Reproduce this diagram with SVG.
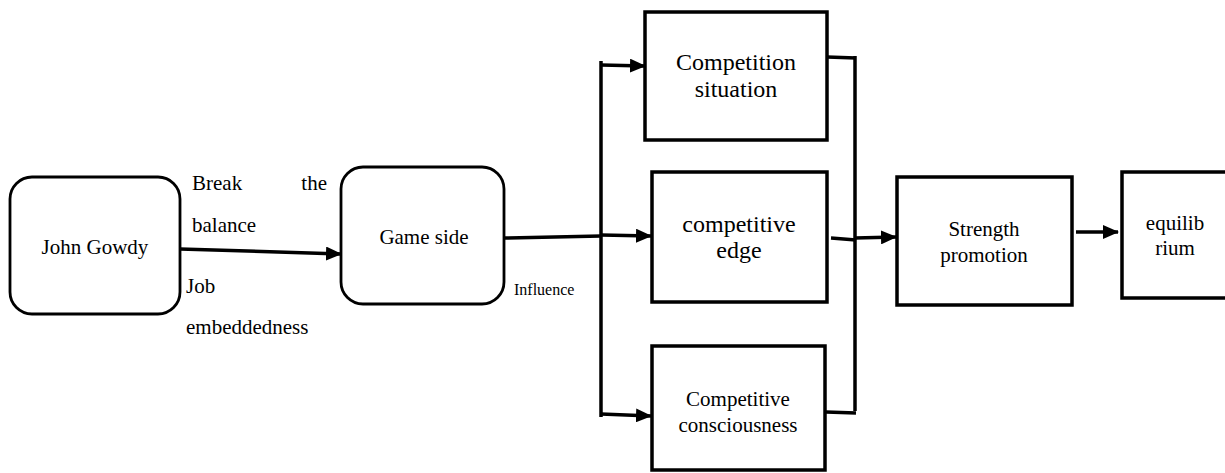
<svg xmlns="http://www.w3.org/2000/svg" width="1225" height="473" viewBox="0 0 1225 473">
<style>
.t{font-family:'Liberation Serif','DejaVu Serif',serif;fill:#000}
.rr{fill:#fff;stroke:#000;stroke-width:2.8}
.bx{fill:#fff;stroke:#000;stroke-width:3.5}
.ln{fill:none;stroke:#000;stroke-width:3.5}
.c{text-anchor:middle}
</style>
<defs>
<marker id="ah" markerUnits="userSpaceOnUse" markerWidth="16" markerHeight="14" refX="15" refY="7" orient="auto">
<path d="M0,0 L16,7 L0,14 z" fill="#000"/>
</marker>
</defs>
<rect width="1225" height="473" fill="#fff"/>
<g id="connectors">
<line class="ln" x1="180" y1="249" x2="341" y2="254" marker-end="url(#ah)"/>
<line class="ln" x1="504" y1="238" x2="601" y2="236"/>
<line class="ln" x1="601" y1="61" x2="601" y2="417"/>
<line class="ln" x1="601" y1="65" x2="645" y2="66" marker-end="url(#ah)"/>
<line class="ln" x1="601" y1="235" x2="651" y2="236" marker-end="url(#ah)"/>
<line class="ln" x1="601" y1="414" x2="651" y2="416" marker-end="url(#ah)"/>
<line class="ln" x1="827" y1="57" x2="856" y2="58"/>
<line class="ln" x1="831" y1="238" x2="856" y2="240"/>
<line class="ln" x1="826" y1="412" x2="856" y2="413"/>
<line class="ln" x1="855" y1="56" x2="855" y2="411"/>
<line class="ln" x1="855" y1="238" x2="896" y2="237" marker-end="url(#ah)"/>
<line class="ln" x1="1076" y1="232" x2="1118" y2="232" marker-end="url(#ah)"/>
</g>
<g id="labels" class="t" font-family="Liberation Serif, DejaVu Serif, serif">
<text x="192" y="190" font-size="21">Break</text>
<text x="327" y="190" font-size="21" text-anchor="end">the</text>
<text x="192" y="232" font-size="21">balance</text>
<text x="186" y="293" font-size="21">Job</text>
<text x="186" y="334" font-size="21">embeddedness</text>
<text x="514" y="295" font-size="16">Influence</text>
</g>
<g id="john-gowdy" class="t" font-family="Liberation Serif, DejaVu Serif, serif">
<rect class="rr" x="10" y="177" width="170" height="137" rx="22"/>
<text class="c" x="95" y="254" font-size="21">John Gowdy</text>
</g>
<g id="game-side" class="t" font-family="Liberation Serif, DejaVu Serif, serif">
<rect class="rr" x="341" y="167" width="163" height="137" rx="22"/>
<text class="c" x="424" y="244" font-size="21">Game side</text>
</g>
<g id="competition-situation" class="t" font-family="Liberation Serif, DejaVu Serif, serif">
<rect class="bx" x="645" y="12" width="182" height="128"/>
<text class="c" x="736" y="70" font-size="24">Competition</text>
<text class="c" x="736" y="97" font-size="24">situation</text>
</g>
<g id="competitive-edge" class="t" font-family="Liberation Serif, DejaVu Serif, serif">
<rect class="bx" x="652" y="172" width="175" height="130"/>
<text class="c" x="739" y="232" font-size="24">competitive</text>
<text class="c" x="739" y="258" font-size="24">edge</text>
</g>
<g id="competitive-consciousness" class="t" font-family="Liberation Serif, DejaVu Serif, serif">
<rect class="bx" x="652" y="346" width="173" height="124"/>
<text class="c" x="738" y="406" font-size="21">Competitive</text>
<text class="c" x="738" y="432" font-size="21">consciousness</text>
</g>
<g id="strength-promotion" class="t" font-family="Liberation Serif, DejaVu Serif, serif">
<rect class="bx" x="897" y="177" width="175" height="128"/>
<text class="c" x="984" y="236" font-size="21">Strength</text>
<text class="c" x="984" y="262" font-size="21">promotion</text>
</g>
<g id="equilibrium" class="t" font-family="Liberation Serif, DejaVu Serif, serif">
<rect class="bx" x="1122" y="172" width="110" height="126"/>
<text class="c" x="1175" y="230" font-size="21">equilib</text>
<text class="c" x="1175" y="255" font-size="21">rium</text>
</g>
</svg>
